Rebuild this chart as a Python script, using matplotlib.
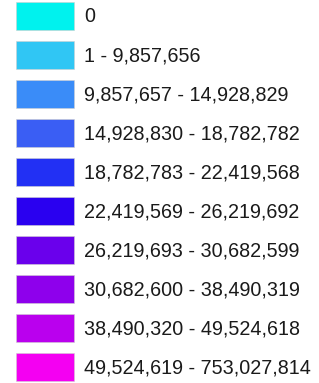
import matplotlib.pyplot as plt

# Legend classes
labels = ["0", "1 - 9,857,656", "9,857,657 - 14,928,829", "14,928,830 - 18,782,782",
          "18,782,783 - 22,419,568", "22,419,569 - 26,219,692", "26,219,693 - 30,682,599",
          "30,682,600 - 38,490,319", "38,490,320 - 49,524,618", "49,524,619 - 753,027,814"]
colors = ["#00F2EE", "#30C6F4", "#3A8CF8", "#3A5EF4", "#2230F4",
          "#2A00F0", "#6A00EC", "#8E00EC", "#BA00EE", "#F400F2"]

fig = plt.figure(figsize=(3.19, 3.83), dpi=100)
ax = fig.add_axes([0, 0, 1, 1])
ax.set_xlim(0, 319)
ax.set_ylim(383, 0)
ax.axis("off")

rows = [16 + 39 * i for i in range(len(labels))]
ax.barh(rows, 58, left=16, height=28, color=colors, edgecolor="#cfcfcf", linewidth=0.4)

for y, lab in zip(rows, labels):
    ax.text(84, y + 1, lab, va="center", ha="left", fontsize=14.2,
            family="Liberation Sans", color="#1a1a1a")

fig.savefig("out.png", dpi=100)
